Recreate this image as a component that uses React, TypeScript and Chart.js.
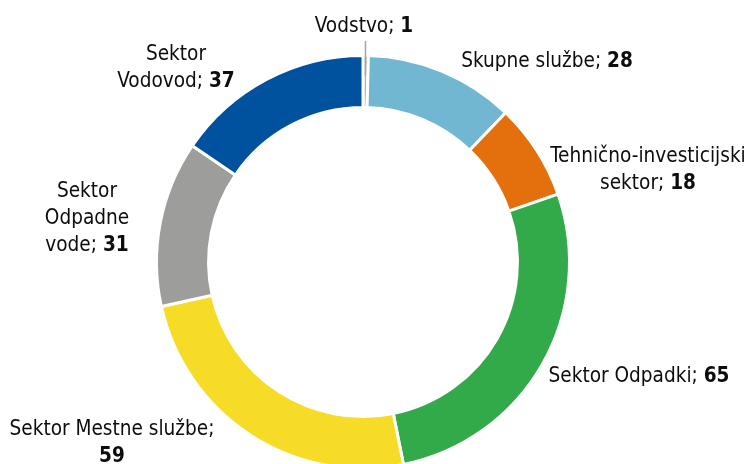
import React, { useEffect, useRef } from "react";
import { Chart, registerables } from "chart.js";

Chart.register(...registerables);

const categories = [
  "Vodstvo",
  "Skupne službe",
  "Tehnično-investicijski sektor",
  "Sektor Odpadki",
  "Sektor Mestne službe",
  "Sektor Odpadne vode",
  "Sektor Vodovod",
];
const values = [1, 28, 18, 65, 59, 31, 37];
const colors = ["#9fbf9f", "#72b7d1", "#e46f0d", "#33aa4a", "#f6dc26", "#9d9d9b", "#00519e"];

// label text lines (value appended in bold to the last line)
const labelLines = [
  ["Vodstvo; "],
  ["Skupne službe; "],
  ["Tehnično-investicijski", "sektor; "],
  ["Sektor Odpadki; "],
  ["Sektor Mestne službe;", ""],
  ["Sektor", "Odpadne", "vode; "],
  ["Sektor", "Vodovod; "],
];
// label centre positions (first line), layout only
const labelPos = [
  [364, 27],
  [547, 62],
  [648, 157],
  [639, 377],
  [112, 430],
  [87, 192],
  [176, 55],
];

const FONT_FAMILY = "'DejaVu Sans Condensed', 'DejaVu Sans', sans-serif";
const FONT_SIZE = 20.6;
const LINE_H = 27;

const labelPlugin = {
  id: "customLabels",
  afterDraw(chart: any) {
    const ctx = chart.ctx;
    const meta = chart.getDatasetMeta(0);
    ctx.save();
    // leader line for the tiny slice
    const arc0 = meta.data[0] as any;
    const mid = (arc0.startAngle + arc0.endAngle) / 2;
    const r1 = arc0.outerRadius - 20;
    ctx.strokeStyle = "#a6a6a6";
    ctx.lineWidth = 1.5;
    ctx.beginPath();
    ctx.moveTo(arc0.x + Math.cos(mid) * r1, arc0.y + Math.sin(mid) * r1);
    ctx.lineTo(arc0.x + Math.cos(mid) * r1, labelPos[0][1] + 14);
    ctx.stroke();

    ctx.textBaseline = "middle";
    ctx.fillStyle = "#0d0d0d";
    const normal = `${FONT_SIZE}px ${FONT_FAMILY}`;
    const bold = `bold ${FONT_SIZE}px ${FONT_FAMILY}`;
    labelLines.forEach((lines, i) => {
      const [cx, cy] = labelPos[i];
      lines.forEach((line, j) => {
        const y = cy + j * LINE_H;
        const isLast = j === lines.length - 1;
        const val = isLast ? String(values[i]) : "";
        ctx.font = normal;
        const w1 = ctx.measureText(line).width;
        ctx.font = bold;
        const w2 = val ? ctx.measureText(val).width : 0;
        const x = cx - (w1 + w2) / 2;
        ctx.textAlign = "left";
        ctx.font = normal;
        ctx.fillText(line, x, y);
        if (val) {
          ctx.font = bold;
          ctx.fillText(val, x + w1, y);
        }
      });
    });
    ctx.restore();
  },
};

export default function App() {
  const ref = useRef<HTMLCanvasElement | null>(null);
  useEffect(() => {
    if (!ref.current) return;
    const chart = new Chart(ref.current, {
      type: "doughnut",
      data: {
        labels: categories,
        datasets: [
          {
            data: values,
            backgroundColor: colors,
            borderColor: "#ffffff",
            borderWidth: 3,
          },
        ],
      },
      options: {
        responsive: false,
        animation: false,
        devicePixelRatio: 1,
        radius: 206.5,
        cutout: "74.8%",
        layout: { padding: { left: 158, right: 185, top: 57, bottom: 13 } },
        plugins: {
          legend: { display: false },
          tooltip: { enabled: false },
        },
      },
      plugins: [labelPlugin],
    });
    return () => chart.destroy();
  }, []);
  return (
    <div
      style={{
        position: "fixed",
        left: 0,
        top: 0,
        width: 753,
        height: 464,
        overflow: "hidden",
        background: "#ffffff",
      }}
    >
      <canvas ref={ref} width={753} height={480} style={{ width: 753, height: 480, display: "block" }} />
    </div>
  );
}
